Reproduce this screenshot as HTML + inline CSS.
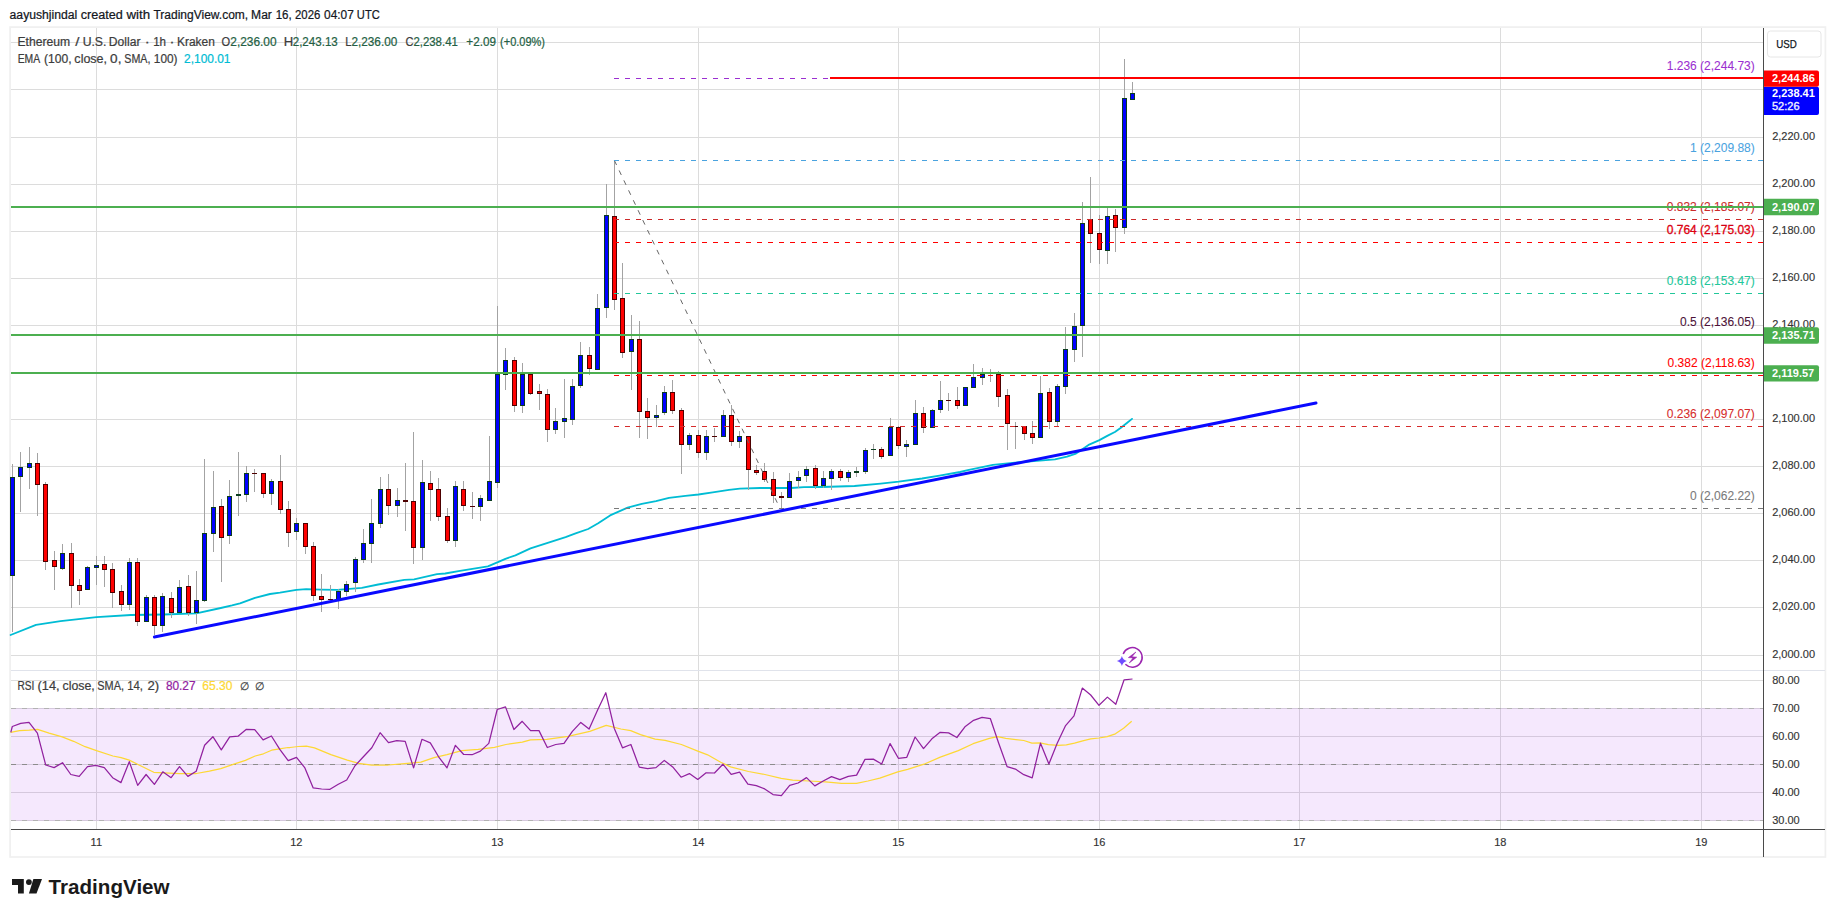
<!DOCTYPE html>
<html lang="en"><head><meta charset="utf-8"><title>ETHUSD chart</title>
<style>html,body{margin:0;padding:0;background:#fff;}body{width:1835px;height:917px;overflow:hidden;}svg{display:block;}</style></head>
<body>
<svg width="1835" height="917" viewBox="0 0 1835 917" font-family='"Liberation Sans", sans-serif' shape-rendering="auto">
<rect x="0" y="0" width="1835" height="917" fill="#ffffff"/>
<rect x="10.1" y="27.1" width="1815.3" height="829.9" fill="#ffffff" stroke="#f0f0f0" stroke-width="1.7"/>
<rect x="96" y="28" width="1" height="801" fill="#dcdcdc"/>
<rect x="296" y="28" width="1" height="801" fill="#dcdcdc"/>
<rect x="497" y="28" width="1" height="801" fill="#dcdcdc"/>
<rect x="698" y="28" width="1" height="801" fill="#dcdcdc"/>
<rect x="898" y="28" width="1" height="801" fill="#dcdcdc"/>
<rect x="1099" y="28" width="1" height="801" fill="#dcdcdc"/>
<rect x="1299" y="28" width="1" height="801" fill="#dcdcdc"/>
<rect x="1500" y="28" width="1" height="801" fill="#dcdcdc"/>
<rect x="1701" y="28" width="1" height="801" fill="#dcdcdc"/>
<rect x="11" y="42" width="1752" height="1" fill="#dcdcdc"/>
<rect x="11" y="89" width="1752" height="1" fill="#dcdcdc"/>
<rect x="11" y="137" width="1752" height="1" fill="#dcdcdc"/>
<rect x="11" y="184" width="1752" height="1" fill="#dcdcdc"/>
<rect x="11" y="231" width="1752" height="1" fill="#dcdcdc"/>
<rect x="11" y="278" width="1752" height="1" fill="#dcdcdc"/>
<rect x="11" y="325" width="1752" height="1" fill="#dcdcdc"/>
<rect x="11" y="372" width="1752" height="1" fill="#dcdcdc"/>
<rect x="11" y="419" width="1752" height="1" fill="#dcdcdc"/>
<rect x="11" y="466" width="1752" height="1" fill="#dcdcdc"/>
<rect x="11" y="513" width="1752" height="1" fill="#dcdcdc"/>
<rect x="11" y="560" width="1752" height="1" fill="#dcdcdc"/>
<rect x="11" y="607" width="1752" height="1" fill="#dcdcdc"/>
<rect x="11" y="655" width="1752" height="1" fill="#dcdcdc"/>
<rect x="11" y="670" width="1814" height="1" fill="#e0e3eb"/>
<rect x="11" y="680" width="1752" height="1" fill="#dcdcdc"/>
<rect x="11" y="708" width="1752" height="1" fill="#dcdcdc"/>
<rect x="11" y="736" width="1752" height="1" fill="#dcdcdc"/>
<rect x="11" y="764" width="1752" height="1" fill="#dcdcdc"/>
<rect x="11" y="792" width="1752" height="1" fill="#dcdcdc"/>
<rect x="11" y="820" width="1752" height="1" fill="#dcdcdc"/>
<rect x="11" y="708" width="1752" height="113" fill="rgb(155,25,235)" fill-opacity="0.1"/>
<line x1="11" y1="708.5" x2="1763" y2="708.5" stroke="#b2b2b2" stroke-width="1" stroke-dasharray="5 6"/>
<line x1="11" y1="764.5" x2="1763" y2="764.5" stroke="#8c8c8c" stroke-width="1" stroke-dasharray="5 6"/>
<line x1="11" y1="820.5" x2="1763" y2="820.5" stroke="#b2b2b2" stroke-width="1" stroke-dasharray="5 6"/>
<polyline points="10.6,635.0 36.0,624.8 60.5,621.1 96.5,617.1 130.9,615.0 163.6,614.5 196.3,613.4 220.8,608.0 232.0,605.4 240.0,603.3 255.0,597.8 270.0,594.0 280.0,592.7 296.4,589.9 306.2,589.1 320.9,589.6 337.3,589.9 361.8,587.9 378.2,584.5 404.3,579.9 414.1,579.4 437.0,574.2 445.2,573.5 460.0,570.9 487.9,566.4 497.9,562.2 505.4,558.8 515.4,555.3 530.5,548.4 543.0,544.3 565.6,537.1 575.6,533.4 588.2,529.0 598.2,523.3 610.1,515.4 627.6,507.6 641.8,503.8 656.0,501.1 669.0,497.8 685.4,495.8 698.5,494.5 712.7,492.3 729.0,489.8 739.9,488.7 760.1,488.0 777.8,488.0 790.9,488.0 804.0,487.2 821.8,487.0 854.5,486.0 880.7,483.6 898.7,481.7 922.1,478.5 939.5,475.7 960.0,472.0 967.8,470.2 992.9,464.8 1015.0,462.6 1036.8,460.9 1055.0,459.3 1067.0,456.6 1076.0,453.6 1082.0,449.4 1089.2,444.6 1099.4,440.1 1107.7,435.6 1114.9,432.0 1120.9,427.8 1126.9,423.0 1132.0,418.9" fill="none" stroke="#00bcd4" stroke-width="1.85" stroke-linejoin="round" stroke-linecap="round"/>
<g shape-rendering="crispEdges">
<rect x="12" y="464" width="1" height="168" fill="#a3a3a3"/>
<rect x="10" y="477" width="5" height="99" fill="#0b3d1e"/>
<rect x="11" y="478" width="3" height="97" fill="#0000ff"/>
<rect x="20" y="452" width="1" height="60" fill="#a3a3a3"/>
<rect x="18" y="467" width="5" height="10" fill="#0b3d1e"/>
<rect x="19" y="468" width="3" height="8" fill="#0000ff"/>
<rect x="29" y="447" width="1" height="42" fill="#a3a3a3"/>
<rect x="27" y="463" width="5" height="5" fill="#0b3d1e"/>
<rect x="28" y="464" width="3" height="3" fill="#0000ff"/>
<rect x="37" y="453" width="1" height="63" fill="#a3a3a3"/>
<rect x="35" y="463" width="5" height="22" fill="#4d0000"/>
<rect x="36" y="464" width="3" height="20" fill="#ff0000"/>
<rect x="45" y="482" width="1" height="88" fill="#a3a3a3"/>
<rect x="43" y="484" width="5" height="78" fill="#4d0000"/>
<rect x="44" y="485" width="3" height="76" fill="#ff0000"/>
<rect x="54" y="551" width="1" height="39" fill="#a3a3a3"/>
<rect x="52" y="560" width="5" height="7" fill="#4d0000"/>
<rect x="53" y="561" width="3" height="5" fill="#ff0000"/>
<rect x="62" y="544" width="1" height="26" fill="#a3a3a3"/>
<rect x="60" y="553" width="5" height="16" fill="#0b3d1e"/>
<rect x="61" y="554" width="3" height="14" fill="#0000ff"/>
<rect x="71" y="543" width="1" height="65" fill="#a3a3a3"/>
<rect x="69" y="553" width="5" height="33" fill="#4d0000"/>
<rect x="70" y="554" width="3" height="31" fill="#ff0000"/>
<rect x="79" y="579" width="1" height="26" fill="#a3a3a3"/>
<rect x="77" y="585" width="5" height="6" fill="#4d0000"/>
<rect x="78" y="586" width="3" height="4" fill="#ff0000"/>
<rect x="87" y="566" width="1" height="24" fill="#a3a3a3"/>
<rect x="85" y="567" width="5" height="23" fill="#0b3d1e"/>
<rect x="86" y="568" width="3" height="21" fill="#0000ff"/>
<rect x="96" y="556" width="1" height="29" fill="#a3a3a3"/>
<rect x="94" y="565" width="5" height="3" fill="#0b3d1e"/>
<rect x="95" y="566" width="3" height="1" fill="#0000ff"/>
<rect x="104" y="556" width="1" height="31" fill="#a3a3a3"/>
<rect x="102" y="564" width="5" height="6" fill="#4d0000"/>
<rect x="103" y="565" width="3" height="4" fill="#ff0000"/>
<rect x="112" y="563" width="1" height="45" fill="#a3a3a3"/>
<rect x="110" y="569" width="5" height="24" fill="#4d0000"/>
<rect x="111" y="570" width="3" height="22" fill="#ff0000"/>
<rect x="121" y="585" width="1" height="26" fill="#a3a3a3"/>
<rect x="119" y="591" width="5" height="14" fill="#4d0000"/>
<rect x="120" y="592" width="3" height="12" fill="#ff0000"/>
<rect x="129" y="558" width="1" height="52" fill="#a3a3a3"/>
<rect x="127" y="562" width="5" height="43" fill="#0b3d1e"/>
<rect x="128" y="563" width="3" height="41" fill="#0000ff"/>
<rect x="137" y="558" width="1" height="68" fill="#a3a3a3"/>
<rect x="135" y="562" width="5" height="60" fill="#4d0000"/>
<rect x="136" y="563" width="3" height="58" fill="#ff0000"/>
<rect x="146" y="595" width="1" height="27" fill="#a3a3a3"/>
<rect x="144" y="597" width="5" height="25" fill="#0b3d1e"/>
<rect x="145" y="598" width="3" height="23" fill="#0000ff"/>
<rect x="154" y="595" width="1" height="40" fill="#a3a3a3"/>
<rect x="152" y="597" width="5" height="29" fill="#4d0000"/>
<rect x="153" y="598" width="3" height="27" fill="#ff0000"/>
<rect x="162" y="593" width="1" height="39" fill="#a3a3a3"/>
<rect x="160" y="596" width="5" height="30" fill="#0b3d1e"/>
<rect x="161" y="597" width="3" height="28" fill="#0000ff"/>
<rect x="171" y="592" width="1" height="26" fill="#a3a3a3"/>
<rect x="169" y="598" width="5" height="15" fill="#4d0000"/>
<rect x="170" y="599" width="3" height="13" fill="#ff0000"/>
<rect x="179" y="580" width="1" height="33" fill="#a3a3a3"/>
<rect x="177" y="587" width="5" height="26" fill="#0b3d1e"/>
<rect x="178" y="588" width="3" height="24" fill="#0000ff"/>
<rect x="188" y="575" width="1" height="41" fill="#a3a3a3"/>
<rect x="186" y="586" width="5" height="27" fill="#4d0000"/>
<rect x="187" y="587" width="3" height="25" fill="#ff0000"/>
<rect x="196" y="571" width="1" height="53" fill="#a3a3a3"/>
<rect x="194" y="600" width="5" height="13" fill="#0b3d1e"/>
<rect x="195" y="601" width="3" height="11" fill="#0000ff"/>
<rect x="204" y="459" width="1" height="143" fill="#a3a3a3"/>
<rect x="202" y="533" width="5" height="68" fill="#0b3d1e"/>
<rect x="203" y="534" width="3" height="66" fill="#0000ff"/>
<rect x="213" y="471" width="1" height="81" fill="#a3a3a3"/>
<rect x="211" y="507" width="5" height="27" fill="#0b3d1e"/>
<rect x="212" y="508" width="3" height="25" fill="#0000ff"/>
<rect x="221" y="499" width="1" height="83" fill="#a3a3a3"/>
<rect x="219" y="506" width="5" height="32" fill="#4d0000"/>
<rect x="220" y="507" width="3" height="30" fill="#ff0000"/>
<rect x="229" y="480" width="1" height="64" fill="#a3a3a3"/>
<rect x="227" y="496" width="5" height="40" fill="#0b3d1e"/>
<rect x="228" y="497" width="3" height="38" fill="#0000ff"/>
<rect x="238" y="452" width="1" height="64" fill="#a3a3a3"/>
<rect x="236" y="494" width="5" height="2" fill="#0b3d1e"/>
<rect x="246" y="466" width="1" height="36" fill="#a3a3a3"/>
<rect x="244" y="473" width="5" height="22" fill="#0b3d1e"/>
<rect x="245" y="474" width="3" height="20" fill="#0000ff"/>
<rect x="254" y="469" width="1" height="23" fill="#a3a3a3"/>
<rect x="252" y="473" width="5" height="1" fill="#4d0000"/>
<rect x="263" y="473" width="1" height="25" fill="#a3a3a3"/>
<rect x="261" y="473" width="5" height="21" fill="#4d0000"/>
<rect x="262" y="474" width="3" height="19" fill="#ff0000"/>
<rect x="271" y="479" width="1" height="26" fill="#a3a3a3"/>
<rect x="269" y="481" width="5" height="13" fill="#0b3d1e"/>
<rect x="270" y="482" width="3" height="11" fill="#0000ff"/>
<rect x="280" y="455" width="1" height="59" fill="#a3a3a3"/>
<rect x="278" y="481" width="5" height="29" fill="#4d0000"/>
<rect x="279" y="482" width="3" height="27" fill="#ff0000"/>
<rect x="288" y="501" width="1" height="46" fill="#a3a3a3"/>
<rect x="286" y="509" width="5" height="24" fill="#4d0000"/>
<rect x="287" y="510" width="3" height="22" fill="#ff0000"/>
<rect x="296" y="518" width="1" height="22" fill="#a3a3a3"/>
<rect x="294" y="523" width="5" height="9" fill="#0b3d1e"/>
<rect x="295" y="524" width="3" height="7" fill="#0000ff"/>
<rect x="305" y="523" width="1" height="31" fill="#a3a3a3"/>
<rect x="303" y="523" width="5" height="24" fill="#4d0000"/>
<rect x="304" y="524" width="3" height="22" fill="#ff0000"/>
<rect x="313" y="542" width="1" height="59" fill="#a3a3a3"/>
<rect x="311" y="546" width="5" height="50" fill="#4d0000"/>
<rect x="312" y="547" width="3" height="48" fill="#ff0000"/>
<rect x="321" y="574" width="1" height="38" fill="#a3a3a3"/>
<rect x="319" y="596" width="5" height="4" fill="#4d0000"/>
<rect x="320" y="597" width="3" height="2" fill="#ff0000"/>
<rect x="330" y="585" width="1" height="15" fill="#a3a3a3"/>
<rect x="328" y="599" width="5" height="1" fill="#4d0000"/>
<rect x="338" y="589" width="1" height="20" fill="#a3a3a3"/>
<rect x="336" y="591" width="5" height="9" fill="#0b3d1e"/>
<rect x="337" y="592" width="3" height="7" fill="#0000ff"/>
<rect x="346" y="581" width="1" height="15" fill="#a3a3a3"/>
<rect x="344" y="584" width="5" height="8" fill="#0b3d1e"/>
<rect x="345" y="585" width="3" height="6" fill="#0000ff"/>
<rect x="355" y="557" width="1" height="35" fill="#a3a3a3"/>
<rect x="353" y="559" width="5" height="24" fill="#0b3d1e"/>
<rect x="354" y="560" width="3" height="22" fill="#0000ff"/>
<rect x="363" y="529" width="1" height="34" fill="#a3a3a3"/>
<rect x="361" y="543" width="5" height="17" fill="#0b3d1e"/>
<rect x="362" y="544" width="3" height="15" fill="#0000ff"/>
<rect x="371" y="499" width="1" height="64" fill="#a3a3a3"/>
<rect x="369" y="523" width="5" height="21" fill="#0b3d1e"/>
<rect x="370" y="524" width="3" height="19" fill="#0000ff"/>
<rect x="380" y="477" width="1" height="51" fill="#a3a3a3"/>
<rect x="378" y="489" width="5" height="35" fill="#0b3d1e"/>
<rect x="379" y="490" width="3" height="33" fill="#0000ff"/>
<rect x="388" y="474" width="1" height="41" fill="#a3a3a3"/>
<rect x="386" y="489" width="5" height="17" fill="#4d0000"/>
<rect x="387" y="490" width="3" height="15" fill="#ff0000"/>
<rect x="397" y="488" width="1" height="29" fill="#a3a3a3"/>
<rect x="395" y="500" width="5" height="6" fill="#0b3d1e"/>
<rect x="396" y="501" width="3" height="4" fill="#0000ff"/>
<rect x="405" y="463" width="1" height="68" fill="#a3a3a3"/>
<rect x="403" y="500" width="5" height="2" fill="#4d0000"/>
<rect x="413" y="432" width="1" height="132" fill="#a3a3a3"/>
<rect x="411" y="501" width="5" height="47" fill="#4d0000"/>
<rect x="412" y="502" width="3" height="45" fill="#ff0000"/>
<rect x="422" y="460" width="1" height="100" fill="#a3a3a3"/>
<rect x="420" y="482" width="5" height="66" fill="#0b3d1e"/>
<rect x="421" y="483" width="3" height="64" fill="#0000ff"/>
<rect x="430" y="471" width="1" height="50" fill="#a3a3a3"/>
<rect x="428" y="483" width="5" height="7" fill="#4d0000"/>
<rect x="429" y="484" width="3" height="5" fill="#ff0000"/>
<rect x="438" y="478" width="1" height="43" fill="#a3a3a3"/>
<rect x="436" y="489" width="5" height="28" fill="#4d0000"/>
<rect x="437" y="490" width="3" height="26" fill="#ff0000"/>
<rect x="447" y="508" width="1" height="35" fill="#a3a3a3"/>
<rect x="445" y="516" width="5" height="25" fill="#4d0000"/>
<rect x="446" y="517" width="3" height="23" fill="#ff0000"/>
<rect x="455" y="481" width="1" height="66" fill="#a3a3a3"/>
<rect x="453" y="486" width="5" height="55" fill="#0b3d1e"/>
<rect x="454" y="487" width="3" height="53" fill="#0000ff"/>
<rect x="463" y="481" width="1" height="30" fill="#a3a3a3"/>
<rect x="461" y="489" width="5" height="17" fill="#4d0000"/>
<rect x="462" y="490" width="3" height="15" fill="#ff0000"/>
<rect x="472" y="492" width="1" height="27" fill="#a3a3a3"/>
<rect x="470" y="506" width="5" height="1" fill="#4d0000"/>
<rect x="480" y="495" width="1" height="26" fill="#a3a3a3"/>
<rect x="478" y="498" width="5" height="9" fill="#0b3d1e"/>
<rect x="479" y="499" width="3" height="7" fill="#0000ff"/>
<rect x="489" y="436" width="1" height="65" fill="#a3a3a3"/>
<rect x="487" y="481" width="5" height="20" fill="#0b3d1e"/>
<rect x="488" y="482" width="3" height="18" fill="#0000ff"/>
<rect x="497" y="306" width="1" height="182" fill="#a3a3a3"/>
<rect x="495" y="374" width="5" height="109" fill="#0b3d1e"/>
<rect x="496" y="375" width="3" height="107" fill="#0000ff"/>
<rect x="505" y="348" width="1" height="42" fill="#a3a3a3"/>
<rect x="503" y="360" width="5" height="15" fill="#0b3d1e"/>
<rect x="504" y="361" width="3" height="13" fill="#0000ff"/>
<rect x="514" y="357" width="1" height="55" fill="#a3a3a3"/>
<rect x="512" y="360" width="5" height="46" fill="#4d0000"/>
<rect x="513" y="361" width="3" height="44" fill="#ff0000"/>
<rect x="522" y="363" width="1" height="50" fill="#a3a3a3"/>
<rect x="520" y="374" width="5" height="32" fill="#0b3d1e"/>
<rect x="521" y="375" width="3" height="30" fill="#0000ff"/>
<rect x="530" y="374" width="1" height="21" fill="#a3a3a3"/>
<rect x="528" y="374" width="5" height="20" fill="#4d0000"/>
<rect x="529" y="375" width="3" height="18" fill="#ff0000"/>
<rect x="539" y="384" width="1" height="26" fill="#a3a3a3"/>
<rect x="537" y="391" width="5" height="3" fill="#4d0000"/>
<rect x="538" y="392" width="3" height="1" fill="#ff0000"/>
<rect x="547" y="389" width="1" height="53" fill="#a3a3a3"/>
<rect x="545" y="394" width="5" height="36" fill="#4d0000"/>
<rect x="546" y="395" width="3" height="34" fill="#ff0000"/>
<rect x="555" y="408" width="1" height="26" fill="#a3a3a3"/>
<rect x="553" y="421" width="5" height="9" fill="#0b3d1e"/>
<rect x="554" y="422" width="3" height="7" fill="#0000ff"/>
<rect x="564" y="379" width="1" height="59" fill="#a3a3a3"/>
<rect x="562" y="418" width="5" height="4" fill="#0b3d1e"/>
<rect x="563" y="419" width="3" height="2" fill="#0000ff"/>
<rect x="572" y="379" width="1" height="46" fill="#a3a3a3"/>
<rect x="570" y="386" width="5" height="34" fill="#0b3d1e"/>
<rect x="571" y="387" width="3" height="32" fill="#0000ff"/>
<rect x="580" y="342" width="1" height="46" fill="#a3a3a3"/>
<rect x="578" y="355" width="5" height="31" fill="#0b3d1e"/>
<rect x="579" y="356" width="3" height="29" fill="#0000ff"/>
<rect x="589" y="347" width="1" height="28" fill="#a3a3a3"/>
<rect x="587" y="355" width="5" height="14" fill="#4d0000"/>
<rect x="588" y="356" width="3" height="12" fill="#ff0000"/>
<rect x="597" y="294" width="1" height="76" fill="#a3a3a3"/>
<rect x="595" y="308" width="5" height="62" fill="#0b3d1e"/>
<rect x="596" y="309" width="3" height="60" fill="#0000ff"/>
<rect x="606" y="184" width="1" height="134" fill="#a3a3a3"/>
<rect x="604" y="215" width="5" height="93" fill="#0b3d1e"/>
<rect x="605" y="216" width="3" height="91" fill="#0000ff"/>
<rect x="614" y="160" width="1" height="150" fill="#a3a3a3"/>
<rect x="612" y="216" width="5" height="84" fill="#4d0000"/>
<rect x="613" y="217" width="3" height="82" fill="#ff0000"/>
<rect x="622" y="263" width="1" height="95" fill="#a3a3a3"/>
<rect x="620" y="298" width="5" height="55" fill="#4d0000"/>
<rect x="621" y="299" width="3" height="53" fill="#ff0000"/>
<rect x="631" y="315" width="1" height="75" fill="#a3a3a3"/>
<rect x="629" y="339" width="5" height="13" fill="#0b3d1e"/>
<rect x="630" y="340" width="3" height="11" fill="#0000ff"/>
<rect x="639" y="321" width="1" height="117" fill="#a3a3a3"/>
<rect x="637" y="339" width="5" height="73" fill="#4d0000"/>
<rect x="638" y="340" width="3" height="71" fill="#ff0000"/>
<rect x="647" y="398" width="1" height="41" fill="#a3a3a3"/>
<rect x="645" y="411" width="5" height="7" fill="#4d0000"/>
<rect x="646" y="412" width="3" height="5" fill="#ff0000"/>
<rect x="656" y="405" width="1" height="22" fill="#a3a3a3"/>
<rect x="654" y="415" width="5" height="3" fill="#0b3d1e"/>
<rect x="655" y="416" width="3" height="1" fill="#0000ff"/>
<rect x="664" y="386" width="1" height="29" fill="#a3a3a3"/>
<rect x="662" y="392" width="5" height="21" fill="#0b3d1e"/>
<rect x="663" y="393" width="3" height="19" fill="#0000ff"/>
<rect x="672" y="380" width="1" height="34" fill="#a3a3a3"/>
<rect x="670" y="392" width="5" height="19" fill="#4d0000"/>
<rect x="671" y="393" width="3" height="17" fill="#ff0000"/>
<rect x="681" y="408" width="1" height="66" fill="#a3a3a3"/>
<rect x="679" y="410" width="5" height="35" fill="#4d0000"/>
<rect x="680" y="411" width="3" height="33" fill="#ff0000"/>
<rect x="689" y="433" width="1" height="17" fill="#a3a3a3"/>
<rect x="687" y="435" width="5" height="10" fill="#0b3d1e"/>
<rect x="688" y="436" width="3" height="8" fill="#0000ff"/>
<rect x="698" y="430" width="1" height="28" fill="#a3a3a3"/>
<rect x="696" y="435" width="5" height="18" fill="#4d0000"/>
<rect x="697" y="436" width="3" height="16" fill="#ff0000"/>
<rect x="706" y="430" width="1" height="30" fill="#a3a3a3"/>
<rect x="704" y="436" width="5" height="17" fill="#0b3d1e"/>
<rect x="705" y="437" width="3" height="15" fill="#0000ff"/>
<rect x="714" y="428" width="1" height="14" fill="#a3a3a3"/>
<rect x="712" y="436" width="5" height="1" fill="#4d0000"/>
<rect x="723" y="410" width="1" height="27" fill="#a3a3a3"/>
<rect x="721" y="415" width="5" height="22" fill="#0b3d1e"/>
<rect x="722" y="416" width="3" height="20" fill="#0000ff"/>
<rect x="731" y="405" width="1" height="41" fill="#a3a3a3"/>
<rect x="729" y="415" width="5" height="27" fill="#4d0000"/>
<rect x="730" y="416" width="3" height="25" fill="#ff0000"/>
<rect x="739" y="431" width="1" height="17" fill="#a3a3a3"/>
<rect x="737" y="436" width="5" height="6" fill="#0b3d1e"/>
<rect x="738" y="437" width="3" height="4" fill="#0000ff"/>
<rect x="748" y="436" width="1" height="54" fill="#a3a3a3"/>
<rect x="746" y="436" width="5" height="34" fill="#4d0000"/>
<rect x="747" y="437" width="3" height="32" fill="#ff0000"/>
<rect x="756" y="465" width="1" height="10" fill="#a3a3a3"/>
<rect x="754" y="470" width="5" height="3" fill="#4d0000"/>
<rect x="755" y="471" width="3" height="1" fill="#ff0000"/>
<rect x="764" y="463" width="1" height="19" fill="#a3a3a3"/>
<rect x="762" y="471" width="5" height="9" fill="#4d0000"/>
<rect x="763" y="472" width="3" height="7" fill="#ff0000"/>
<rect x="773" y="472" width="1" height="31" fill="#a3a3a3"/>
<rect x="771" y="479" width="5" height="17" fill="#4d0000"/>
<rect x="772" y="480" width="3" height="15" fill="#ff0000"/>
<rect x="781" y="492" width="1" height="16" fill="#a3a3a3"/>
<rect x="779" y="496" width="5" height="2" fill="#4d0000"/>
<rect x="789" y="473" width="1" height="25" fill="#a3a3a3"/>
<rect x="787" y="481" width="5" height="17" fill="#0b3d1e"/>
<rect x="788" y="482" width="3" height="15" fill="#0000ff"/>
<rect x="798" y="471" width="1" height="17" fill="#a3a3a3"/>
<rect x="796" y="477" width="5" height="4" fill="#0b3d1e"/>
<rect x="797" y="478" width="3" height="2" fill="#0000ff"/>
<rect x="806" y="466" width="1" height="16" fill="#a3a3a3"/>
<rect x="804" y="469" width="5" height="7" fill="#0b3d1e"/>
<rect x="805" y="470" width="3" height="5" fill="#0000ff"/>
<rect x="815" y="465" width="1" height="24" fill="#a3a3a3"/>
<rect x="813" y="468" width="5" height="18" fill="#4d0000"/>
<rect x="814" y="469" width="3" height="16" fill="#ff0000"/>
<rect x="823" y="471" width="1" height="17" fill="#a3a3a3"/>
<rect x="821" y="478" width="5" height="8" fill="#0b3d1e"/>
<rect x="822" y="479" width="3" height="6" fill="#0000ff"/>
<rect x="831" y="469" width="1" height="21" fill="#a3a3a3"/>
<rect x="829" y="471" width="5" height="8" fill="#0b3d1e"/>
<rect x="830" y="472" width="3" height="6" fill="#0000ff"/>
<rect x="840" y="469" width="1" height="12" fill="#a3a3a3"/>
<rect x="838" y="471" width="5" height="7" fill="#4d0000"/>
<rect x="839" y="472" width="3" height="5" fill="#ff0000"/>
<rect x="848" y="470" width="1" height="12" fill="#a3a3a3"/>
<rect x="846" y="472" width="5" height="6" fill="#0b3d1e"/>
<rect x="847" y="473" width="3" height="4" fill="#0000ff"/>
<rect x="856" y="467" width="1" height="10" fill="#a3a3a3"/>
<rect x="854" y="471" width="5" height="2" fill="#0b3d1e"/>
<rect x="865" y="448" width="1" height="26" fill="#a3a3a3"/>
<rect x="863" y="450" width="5" height="22" fill="#0b3d1e"/>
<rect x="864" y="451" width="3" height="20" fill="#0000ff"/>
<rect x="873" y="444" width="1" height="15" fill="#a3a3a3"/>
<rect x="871" y="449" width="5" height="1" fill="#0b3d1e"/>
<rect x="881" y="447" width="1" height="12" fill="#a3a3a3"/>
<rect x="879" y="449" width="5" height="8" fill="#4d0000"/>
<rect x="880" y="450" width="3" height="6" fill="#ff0000"/>
<rect x="890" y="418" width="1" height="38" fill="#a3a3a3"/>
<rect x="888" y="427" width="5" height="29" fill="#0b3d1e"/>
<rect x="889" y="428" width="3" height="27" fill="#0000ff"/>
<rect x="898" y="426" width="1" height="23" fill="#a3a3a3"/>
<rect x="896" y="427" width="5" height="19" fill="#4d0000"/>
<rect x="897" y="428" width="3" height="17" fill="#ff0000"/>
<rect x="906" y="440" width="1" height="17" fill="#a3a3a3"/>
<rect x="904" y="444" width="5" height="3" fill="#0b3d1e"/>
<rect x="905" y="445" width="3" height="1" fill="#0000ff"/>
<rect x="915" y="400" width="1" height="45" fill="#a3a3a3"/>
<rect x="913" y="413" width="5" height="32" fill="#0b3d1e"/>
<rect x="914" y="414" width="3" height="30" fill="#0000ff"/>
<rect x="923" y="407" width="1" height="26" fill="#a3a3a3"/>
<rect x="921" y="413" width="5" height="15" fill="#4d0000"/>
<rect x="922" y="414" width="3" height="13" fill="#ff0000"/>
<rect x="932" y="409" width="1" height="19" fill="#a3a3a3"/>
<rect x="930" y="410" width="5" height="18" fill="#0b3d1e"/>
<rect x="931" y="411" width="3" height="16" fill="#0000ff"/>
<rect x="940" y="381" width="1" height="32" fill="#a3a3a3"/>
<rect x="938" y="400" width="5" height="10" fill="#0b3d1e"/>
<rect x="939" y="401" width="3" height="8" fill="#0000ff"/>
<rect x="948" y="393" width="1" height="18" fill="#a3a3a3"/>
<rect x="946" y="400" width="5" height="1" fill="#4d0000"/>
<rect x="957" y="387" width="1" height="22" fill="#a3a3a3"/>
<rect x="955" y="400" width="5" height="6" fill="#4d0000"/>
<rect x="956" y="401" width="3" height="4" fill="#ff0000"/>
<rect x="965" y="387" width="1" height="19" fill="#a3a3a3"/>
<rect x="963" y="387" width="5" height="19" fill="#0b3d1e"/>
<rect x="964" y="388" width="3" height="17" fill="#0000ff"/>
<rect x="973" y="364" width="1" height="24" fill="#a3a3a3"/>
<rect x="971" y="377" width="5" height="11" fill="#0b3d1e"/>
<rect x="972" y="378" width="3" height="9" fill="#0000ff"/>
<rect x="982" y="368" width="1" height="17" fill="#a3a3a3"/>
<rect x="980" y="374" width="5" height="4" fill="#0b3d1e"/>
<rect x="981" y="375" width="3" height="2" fill="#0000ff"/>
<rect x="990" y="369" width="1" height="13" fill="#a3a3a3"/>
<rect x="988" y="373" width="5" height="1" fill="#4d0000"/>
<rect x="998" y="371" width="1" height="36" fill="#a3a3a3"/>
<rect x="996" y="374" width="5" height="23" fill="#4d0000"/>
<rect x="997" y="375" width="3" height="21" fill="#ff0000"/>
<rect x="1007" y="389" width="1" height="61" fill="#a3a3a3"/>
<rect x="1005" y="395" width="5" height="29" fill="#4d0000"/>
<rect x="1006" y="396" width="3" height="27" fill="#ff0000"/>
<rect x="1015" y="422" width="1" height="27" fill="#a3a3a3"/>
<rect x="1013" y="426" width="5" height="1" fill="#4d0000"/>
<rect x="1024" y="426" width="1" height="14" fill="#a3a3a3"/>
<rect x="1022" y="426" width="5" height="8" fill="#4d0000"/>
<rect x="1023" y="427" width="3" height="6" fill="#ff0000"/>
<rect x="1032" y="421" width="1" height="23" fill="#a3a3a3"/>
<rect x="1030" y="433" width="5" height="5" fill="#4d0000"/>
<rect x="1031" y="434" width="3" height="3" fill="#ff0000"/>
<rect x="1040" y="376" width="1" height="62" fill="#a3a3a3"/>
<rect x="1038" y="393" width="5" height="45" fill="#0b3d1e"/>
<rect x="1039" y="394" width="3" height="43" fill="#0000ff"/>
<rect x="1049" y="388" width="1" height="41" fill="#a3a3a3"/>
<rect x="1047" y="392" width="5" height="30" fill="#4d0000"/>
<rect x="1048" y="393" width="3" height="28" fill="#ff0000"/>
<rect x="1057" y="384" width="1" height="42" fill="#a3a3a3"/>
<rect x="1055" y="386" width="5" height="36" fill="#0b3d1e"/>
<rect x="1056" y="387" width="3" height="34" fill="#0000ff"/>
<rect x="1065" y="327" width="1" height="67" fill="#a3a3a3"/>
<rect x="1063" y="349" width="5" height="38" fill="#0b3d1e"/>
<rect x="1064" y="350" width="3" height="36" fill="#0000ff"/>
<rect x="1074" y="313" width="1" height="49" fill="#a3a3a3"/>
<rect x="1072" y="326" width="5" height="24" fill="#0b3d1e"/>
<rect x="1073" y="327" width="3" height="22" fill="#0000ff"/>
<rect x="1082" y="202" width="1" height="155" fill="#a3a3a3"/>
<rect x="1080" y="223" width="5" height="103" fill="#0b3d1e"/>
<rect x="1081" y="224" width="3" height="101" fill="#0000ff"/>
<rect x="1090" y="177" width="1" height="86" fill="#a3a3a3"/>
<rect x="1088" y="219" width="5" height="15" fill="#4d0000"/>
<rect x="1089" y="220" width="3" height="13" fill="#ff0000"/>
<rect x="1099" y="215" width="1" height="49" fill="#a3a3a3"/>
<rect x="1097" y="233" width="5" height="17" fill="#4d0000"/>
<rect x="1098" y="234" width="3" height="15" fill="#ff0000"/>
<rect x="1107" y="208" width="1" height="56" fill="#a3a3a3"/>
<rect x="1105" y="216" width="5" height="35" fill="#0b3d1e"/>
<rect x="1106" y="217" width="3" height="33" fill="#0000ff"/>
<rect x="1115" y="209" width="1" height="43" fill="#a3a3a3"/>
<rect x="1113" y="215" width="5" height="13" fill="#4d0000"/>
<rect x="1114" y="216" width="3" height="11" fill="#ff0000"/>
<rect x="1124" y="59" width="1" height="175" fill="#a3a3a3"/>
<rect x="1122" y="98" width="5" height="130" fill="#0b3d1e"/>
<rect x="1123" y="99" width="3" height="128" fill="#0000ff"/>
<rect x="1132" y="82" width="1" height="18" fill="#a3a3a3"/>
<rect x="1130" y="93" width="5" height="7" fill="#0b3d1e"/>
<rect x="1131" y="94" width="3" height="5" fill="#0000ff"/>
</g>
<line x1="614.4" y1="160.5" x2="780" y2="508.5" stroke="#666666" stroke-width="1" stroke-dasharray="5 6"/>
<line x1="614" y1="78.5" x2="830.3" y2="78.5" stroke="#9b2fd1" stroke-width="1" stroke-dasharray="5 6"/>
<line x1="614" y1="160.5" x2="1763" y2="160.5" stroke="#4aa3df" stroke-width="1" stroke-dasharray="5 6"/>
<line x1="614" y1="219.5" x2="1763" y2="219.5" stroke="#cc2a2a" stroke-width="1" stroke-dasharray="5 6"/>
<line x1="614" y1="242.5" x2="1763" y2="242.5" stroke="#ff0000" stroke-width="1" stroke-dasharray="5 6"/>
<line x1="614" y1="293.5" x2="1763" y2="293.5" stroke="#22c79a" stroke-width="1" stroke-dasharray="5 6"/>
<line x1="614" y1="334.5" x2="1763" y2="334.5" stroke="#4d1238" stroke-width="1" stroke-dasharray="5 6"/>
<line x1="614" y1="375.5" x2="1763" y2="375.5" stroke="#ff0000" stroke-width="1" stroke-dasharray="5 6"/>
<line x1="614" y1="426.5" x2="1763" y2="426.5" stroke="#d62c2c" stroke-width="1" stroke-dasharray="5 6"/>
<line x1="614" y1="508.5" x2="1763" y2="508.5" stroke="#7a7a7a" stroke-width="1" stroke-dasharray="5 6"/>
<text x="1754.8" y="69.9" font-size="12" fill="#9b2fd1" stroke="#9b2fd1" stroke-width="0.08" text-anchor="end">1.236 (2,244.73)</text>
<text x="1754.8" y="151.9" font-size="12" fill="#4aa3df" stroke="#4aa3df" stroke-width="0.08" text-anchor="end">1 (2,209.88)</text>
<text x="1754.8" y="210.9" font-size="12" fill="#cc2a2a" stroke="#cc2a2a" stroke-width="0.08" text-anchor="end">0.832 (2,185.07)</text>
<text x="1754.8" y="233.9" font-size="12" fill="#ff0000" stroke="#b80024" stroke-width="0.3" text-anchor="end">0.764 (2,175.03)</text>
<text x="1754.8" y="284.9" font-size="12" fill="#22c79a" stroke="#22c79a" stroke-width="0.08" text-anchor="end">0.618 (2,153.47)</text>
<text x="1754.8" y="325.9" font-size="12" fill="#4d1238" stroke="#4d1238" stroke-width="0.08" text-anchor="end">0.5 (2,136.05)</text>
<text x="1754.8" y="366.9" font-size="12" fill="#ff0000" stroke="#ff0000" stroke-width="0.08" text-anchor="end">0.382 (2,118.63)</text>
<text x="1754.8" y="417.9" font-size="12" fill="#d62c2c" stroke="#d62c2c" stroke-width="0.08" text-anchor="end">0.236 (2,097.07)</text>
<text x="1754.8" y="499.9" font-size="12" fill="#7a7a7a" stroke="#7a7a7a" stroke-width="0.08" text-anchor="end">0 (2,062.22)</text>
<rect x="830" y="77" width="933" height="2" fill="#ff0000"/>
<rect x="11" y="206" width="1752" height="2" fill="#4caf50"/>
<rect x="11" y="334" width="1752" height="2" fill="#4caf50"/>
<rect x="11" y="372" width="1752" height="2" fill="#4caf50"/>
<line x1="154.4" y1="637.0" x2="1316" y2="403.0" stroke="#0a0aff" stroke-width="3" stroke-linecap="round"/>
<polyline points="10.6,732.3 19.6,730.6 29.4,730.1 37.6,729.3 49.1,733.1 62.2,736.8 73.6,741.3 85.1,746.7 96.5,750.7 112.9,756.0 121.1,757.6 129.2,760.1 139.0,765.0 153.8,772.3 163.6,772.8 179.9,773.6 196.3,773.5 209.4,771.2 220.8,768.7 233.9,764.2 245.4,760.4 255.2,756.0 263.4,753.8 271.6,750.2 279.7,748.9 287.9,747.5 290.0,747.5 298.2,746.5 306.4,746.2 314.5,747.8 330.9,754.7 347.3,760.1 358.7,763.3 371.8,765.1 388.2,765.0 404.5,763.7 420.9,762.2 434.0,757.6 447.0,754.7 461.8,750.6 478.1,749.4 494.5,747.3 505.9,744.5 522.3,742.1 530.5,739.8 546.8,739.3 568.1,736.3 580.0,733.6 589.8,731.4 606.2,725.4 620.9,729.0 630.7,730.6 640.5,734.7 655.2,739.1 665.1,740.4 681.4,744.5 697.8,751.1 707.6,754.8 720.7,762.2 730.5,766.9 748.5,771.5 764.9,774.5 781.2,778.4 792.7,780.2 809.0,781.0 825.4,781.8 841.7,783.3 856.5,783.3 867.9,781.0 870.0,780.5 879.8,778.1 897.8,771.9 907.6,769.4 924.0,764.2 940.3,757.1 958.3,750.6 973.1,743.7 989.4,738.3 997.6,736.7 1005.8,738.3 1023.8,740.5 1031.9,743.2 1040.1,742.9 1048.3,744.6 1058.1,745.4 1066.3,744.9 1074.5,743.2 1082.7,740.8 1090.8,738.8 1099.0,738.0 1107.2,736.7 1115.4,733.8 1123.6,728.2 1131.7,721.2" fill="none" stroke="#fdd835" stroke-width="1.25" stroke-linejoin="round"/>
<polyline points="10.8,732.3 12.3,726.5 20.7,723.3 29.0,722.3 37.4,733.1 45.7,765.0 54.1,767.6 62.5,762.7 70.8,774.5 79.2,776.4 87.5,766.6 95.9,765.3 104.3,767.6 112.6,777.7 121.0,782.6 129.3,761.7 137.7,785.4 146.1,774.5 154.4,784.3 162.8,771.8 171.1,777.7 179.5,766.6 187.9,776.4 196.2,771.2 204.6,745.3 212.9,736.7 221.3,749.9 229.7,736.8 238.0,736.2 246.4,729.3 254.7,729.6 263.1,739.9 271.4,736.0 279.8,749.4 288.2,760.6 296.5,757.3 304.9,767.9 313.2,787.9 321.6,789.0 330.0,789.3 338.3,784.3 346.7,780.0 355.0,765.8 363.4,756.8 371.8,747.8 380.1,732.7 388.5,742.6 396.8,740.6 405.2,741.4 413.6,767.9 421.9,739.3 430.3,742.9 438.6,756.8 447.0,767.9 455.4,745.3 463.7,754.5 472.1,754.7 480.4,751.1 488.8,743.4 497.2,709.5 505.5,706.9 513.9,729.5 522.2,721.3 530.6,730.6 539.0,730.6 547.3,747.5 555.7,744.5 564.0,743.4 572.4,731.4 580.8,722.4 589.1,729.0 597.5,710.2 605.8,692.7 614.2,728.2 622.5,747.8 630.9,744.5 639.3,767.1 647.6,768.6 656.0,767.6 664.3,760.4 672.7,766.9 681.1,777.2 689.4,773.6 697.8,779.4 706.1,772.8 714.5,773.0 722.9,764.2 731.2,774.3 739.6,772.2 747.9,784.1 756.3,785.7 764.7,788.9 773.0,794.6 781.4,795.7 789.7,785.4 798.1,783.0 806.5,777.6 814.8,785.9 823.2,781.0 831.5,776.6 839.9,779.7 848.3,776.4 856.6,775.1 865.0,759.4 873.3,759.1 881.7,764.0 890.1,743.6 898.4,758.3 906.8,757.3 915.1,737.0 923.5,748.6 931.9,738.8 940.2,732.3 948.6,732.9 956.9,737.5 965.3,726.4 973.6,720.3 982.0,717.4 990.4,718.7 998.7,743.2 1007.1,766.6 1015.4,769.1 1023.8,774.7 1032.2,777.9 1040.5,743.2 1048.9,764.0 1057.2,743.2 1065.6,725.6 1074.0,715.9 1082.3,688.1 1090.7,695.0 1099.0,705.3 1107.4,697.1 1115.8,704.3 1124.1,679.8 1132.5,679.0" fill="none" stroke="#91219f" stroke-width="1.25" stroke-linejoin="round"/>
<g transform="translate(1132.4,657.4)"><circle cx="-0.4" cy="0" r="12.1" fill="#ffffff"/><path d="M-9.2,-3.5 A9.8,9.8 0 1 1 -7.0,6.9" fill="none" stroke="#9c27b0" stroke-width="1.5" stroke-linecap="butt"/><path d="M3.5,-5.4 L-4.0,0.2 L0.6,0.5 L-3.1,5.5 L4.3,-0.2 L-0.5,-0.6 Z" fill="#9c27b0" stroke="#9c27b0" stroke-width="0.6" stroke-linejoin="round"/><path d="M-10.5,-1.5 Q-9.55,2.55 -5.5,3.5 Q-9.55,4.45 -10.5,8.5 Q-11.45,4.45 -15.5,3.5 Q-11.45,2.55 -10.5,-1.5 Z" fill="#6f4cff"/></g>
<rect x="1763" y="28" width="1" height="829" fill="#4a4a4a"/>
<rect x="11" y="829" width="1814" height="1" fill="#4a4a4a"/>
<text x="1772.2" y="139.7" font-size="11" fill="#333333" stroke="#333333" stroke-width="0.15">2,220.00</text>
<text x="1772.2" y="186.7" font-size="11" fill="#333333" stroke="#333333" stroke-width="0.15">2,200.00</text>
<text x="1772.2" y="233.7" font-size="11" fill="#333333" stroke="#333333" stroke-width="0.15">2,180.00</text>
<text x="1772.2" y="280.7" font-size="11" fill="#333333" stroke="#333333" stroke-width="0.15">2,160.00</text>
<text x="1772.2" y="327.7" font-size="11" fill="#333333" stroke="#333333" stroke-width="0.15">2,140.00</text>
<text x="1772.2" y="421.7" font-size="11" fill="#333333" stroke="#333333" stroke-width="0.15">2,100.00</text>
<text x="1772.2" y="468.7" font-size="11" fill="#333333" stroke="#333333" stroke-width="0.15">2,080.00</text>
<text x="1772.2" y="515.7" font-size="11" fill="#333333" stroke="#333333" stroke-width="0.15">2,060.00</text>
<text x="1772.2" y="562.7" font-size="11" fill="#333333" stroke="#333333" stroke-width="0.15">2,040.00</text>
<text x="1772.2" y="609.7" font-size="11" fill="#333333" stroke="#333333" stroke-width="0.15">2,020.00</text>
<text x="1772.2" y="657.7" font-size="11" fill="#333333" stroke="#333333" stroke-width="0.15">2,000.00</text>
<text x="1772.2" y="684.1" font-size="11" fill="#333333" stroke="#333333" stroke-width="0.15">80.00</text>
<text x="1772.2" y="712.1" font-size="11" fill="#333333" stroke="#333333" stroke-width="0.15">70.00</text>
<text x="1772.2" y="740.0" font-size="11" fill="#333333" stroke="#333333" stroke-width="0.15">60.00</text>
<text x="1772.2" y="768.0" font-size="11" fill="#333333" stroke="#333333" stroke-width="0.15">50.00</text>
<text x="1772.2" y="796.0" font-size="11" fill="#333333" stroke="#333333" stroke-width="0.15">40.00</text>
<text x="1772.2" y="823.9" font-size="11" fill="#333333" stroke="#333333" stroke-width="0.15">30.00</text>
<path d="M1764,327.3 H1817 a2,2 0 0 1 2,2 V341.7 a2,2 0 0 1 -2,2 H1764 Z" fill="#4caf50"/>
<text x="1772" y="339.2" font-size="11" fill="#ffffff" font-weight="bold">2,135.71</text>
<path d="M1764,365.2 H1817 a2,2 0 0 1 2,2 V379.59999999999997 a2,2 0 0 1 -2,2 H1764 Z" fill="#4caf50"/>
<text x="1772" y="377.2" font-size="11" fill="#ffffff" font-weight="bold">2,119.57</text>
<path d="M1764,198.8 H1817 a2,2 0 0 1 2,2 V213.20000000000002 a2,2 0 0 1 -2,2 H1764 Z" fill="#4caf50"/>
<text x="1772" y="210.8" font-size="11" fill="#ffffff" font-weight="bold">2,190.07</text>
<path d="M1764,86.7 H1817 a2,2 0 0 1 2,2 V113.0 a2,2 0 0 1 -2,2 H1764 Z" fill="#0000ff"/>
<text x="1772" y="96.8" font-size="11" fill="#ffffff" font-weight="bold">2,238.41</text>
<text x="1772" y="110.3" font-size="11" fill="#f0f0ff" stroke="#f0f0ff" stroke-width="0.35">52:26</text>
<path d="M1764,70.4 H1817 a2,2 0 0 1 2,2 V84.80000000000001 a2,2 0 0 1 -2,2 H1764 Z" fill="#ff0000"/>
<text x="1772" y="82.4" font-size="11" fill="#ffffff" font-weight="bold">2,244.86</text>
<rect x="1767.5" y="31" width="53.5" height="26" rx="3" fill="#ffffff" stroke="#e6e6e6" stroke-width="1"/>
<text x="1776.3" y="48.4" font-size="11" fill="#131722" stroke="#131722" stroke-width="0.25" textLength="20.6" lengthAdjust="spacingAndGlyphs">USD</text>
<text x="96.3" y="846.1" font-size="11" fill="#333333" stroke="#333333" stroke-width="0.15" text-anchor="middle">11</text>
<text x="296.3" y="846.1" font-size="11" fill="#333333" stroke="#333333" stroke-width="0.15" text-anchor="middle">12</text>
<text x="497.3" y="846.1" font-size="11" fill="#333333" stroke="#333333" stroke-width="0.15" text-anchor="middle">13</text>
<text x="698.3" y="846.1" font-size="11" fill="#333333" stroke="#333333" stroke-width="0.15" text-anchor="middle">14</text>
<text x="898.3" y="846.1" font-size="11" fill="#333333" stroke="#333333" stroke-width="0.15" text-anchor="middle">15</text>
<text x="1099.3" y="846.1" font-size="11" fill="#333333" stroke="#333333" stroke-width="0.15" text-anchor="middle">16</text>
<text x="1299.3" y="846.1" font-size="11" fill="#333333" stroke="#333333" stroke-width="0.15" text-anchor="middle">17</text>
<text x="1500.3" y="846.1" font-size="11" fill="#333333" stroke="#333333" stroke-width="0.15" text-anchor="middle">18</text>
<text x="1701.3" y="846.1" font-size="11" fill="#333333" stroke="#333333" stroke-width="0.15" text-anchor="middle">19</text>
<g fill="#1a1a1a"><path d="M12,879.1 H23.8 V893.6 H18 V884.9 H12 Z"/><circle cx="28.9" cy="882.1" r="2.9"/><path d="M33.4,879.1 H42 L36.5,893.6 H28.9 Z"/><text x="48.6" y="893.6" font-size="20.3" font-weight="bold" textLength="121" lengthAdjust="spacingAndGlyphs">TradingView</text></g>
<text x="9.59" y="18.8" font-size="12" fill="#131722" stroke="#131722" stroke-width="0.22" textLength="67.74" lengthAdjust="spacingAndGlyphs">aayushjindal</text>
<text x="80.67" y="18.8" font-size="12" fill="#131722" stroke="#131722" stroke-width="0.22" textLength="42.05" lengthAdjust="spacingAndGlyphs">created</text>
<text x="126.40" y="18.8" font-size="12" fill="#131722" stroke="#131722" stroke-width="0.22" textLength="23.63" lengthAdjust="spacingAndGlyphs">with</text>
<text x="153.45" y="18.8" font-size="12" fill="#131722" stroke="#131722" stroke-width="0.22" textLength="94.72" lengthAdjust="spacingAndGlyphs">TradingView.com,</text>
<text x="251.09" y="18.8" font-size="12" fill="#131722" stroke="#131722" stroke-width="0.22" textLength="20.78" lengthAdjust="spacingAndGlyphs">Mar</text>
<text x="275.64" y="18.8" font-size="12" fill="#131722" stroke="#131722" stroke-width="0.22" textLength="16.07" lengthAdjust="spacingAndGlyphs">16,</text>
<text x="295.03" y="18.8" font-size="12" fill="#131722" stroke="#131722" stroke-width="0.22" textLength="25.30" lengthAdjust="spacingAndGlyphs">2026</text>
<text x="324.11" y="18.8" font-size="12" fill="#131722" stroke="#131722" stroke-width="0.22" textLength="29.72" lengthAdjust="spacingAndGlyphs">04:07</text>
<text x="356.87" y="18.8" font-size="12" fill="#131722" stroke="#131722" stroke-width="0.22" textLength="22.85" lengthAdjust="spacingAndGlyphs">UTC</text>
<text x="17.49" y="45.7" font-size="12" fill="#3c3c3c" stroke="#3c3c3c" stroke-width="0.22" textLength="52.60" lengthAdjust="spacingAndGlyphs">Ethereum</text>
<text x="75.20" y="45.7" font-size="12" fill="#3c3c3c" stroke="#3c3c3c" stroke-width="0.22" textLength="4.18" lengthAdjust="spacingAndGlyphs">/</text>
<text x="82.68" y="45.7" font-size="12" fill="#3c3c3c" stroke="#3c3c3c" stroke-width="0.22" textLength="23.73" lengthAdjust="spacingAndGlyphs">U.S.</text>
<text x="108.89" y="45.7" font-size="12" fill="#3c3c3c" stroke="#3c3c3c" stroke-width="0.22" textLength="31.60" lengthAdjust="spacingAndGlyphs">Dollar</text>
<text x="144.72" y="45.7" font-size="12" fill="#3c3c3c" stroke="#3c3c3c" stroke-width="0.22" textLength="5.00" lengthAdjust="spacingAndGlyphs">·</text>
<text x="153.13" y="45.7" font-size="12" fill="#3c3c3c" stroke="#3c3c3c" stroke-width="0.22" textLength="12.89" lengthAdjust="spacingAndGlyphs">1h</text>
<text x="169.53" y="45.7" font-size="12" fill="#3c3c3c" stroke="#3c3c3c" stroke-width="0.22" textLength="5.00" lengthAdjust="spacingAndGlyphs">·</text>
<text x="177.00" y="45.7" font-size="12" fill="#3c3c3c" stroke="#3c3c3c" stroke-width="0.22" textLength="37.87" lengthAdjust="spacingAndGlyphs">Kraken</text>
<text x="221.54" y="45.7" font-size="12" fill="#3c3c3c" stroke="#3c3c3c" stroke-width="0.22" textLength="8.61" lengthAdjust="spacingAndGlyphs">O</text>
<text x="230.30" y="45.7" font-size="12" fill="#245f44" stroke="#245f44" stroke-width="0.22" textLength="46.26" lengthAdjust="spacingAndGlyphs">2,236.00</text>
<text x="283.70" y="45.7" font-size="12" fill="#3c3c3c" stroke="#3c3c3c" stroke-width="0.22" textLength="9.51" lengthAdjust="spacingAndGlyphs">H</text>
<text x="292.72" y="45.7" font-size="12" fill="#245f44" stroke="#245f44" stroke-width="0.22" textLength="45.03" lengthAdjust="spacingAndGlyphs">2,243.13</text>
<text x="345.27" y="45.7" font-size="12" fill="#3c3c3c" stroke="#3c3c3c" stroke-width="0.22" textLength="6.24" lengthAdjust="spacingAndGlyphs">L</text>
<text x="351.51" y="45.7" font-size="12" fill="#245f44" stroke="#245f44" stroke-width="0.22" textLength="45.75" lengthAdjust="spacingAndGlyphs">2,236.00</text>
<text x="405.54" y="45.7" font-size="12" fill="#3c3c3c" stroke="#3c3c3c" stroke-width="0.22" textLength="7.98" lengthAdjust="spacingAndGlyphs">C</text>
<text x="413.42" y="45.7" font-size="12" fill="#245f44" stroke="#245f44" stroke-width="0.22" textLength="44.42" lengthAdjust="spacingAndGlyphs">2,238.41</text>
<text x="466.31" y="45.7" font-size="12" fill="#245f44" stroke="#245f44" stroke-width="0.22" textLength="29.60" lengthAdjust="spacingAndGlyphs">+2.09</text>
<text x="500.11" y="45.7" font-size="12" fill="#245f44" stroke="#245f44" stroke-width="0.22" textLength="44.90" lengthAdjust="spacingAndGlyphs">(+0.09%)</text>
<text x="17.64" y="62.9" font-size="12" fill="#3c3c3c" stroke="#3c3c3c" stroke-width="0.22" textLength="22.48" lengthAdjust="spacingAndGlyphs">EMA</text>
<text x="44.04" y="62.9" font-size="12" fill="#3c3c3c" stroke="#3c3c3c" stroke-width="0.22" textLength="27.57" lengthAdjust="spacingAndGlyphs">(100,</text>
<text x="74.38" y="62.9" font-size="12" fill="#3c3c3c" stroke="#3c3c3c" stroke-width="0.22" textLength="32.68" lengthAdjust="spacingAndGlyphs">close,</text>
<text x="110.14" y="62.9" font-size="12" fill="#3c3c3c" stroke="#3c3c3c" stroke-width="0.22" textLength="11.31" lengthAdjust="spacingAndGlyphs">0,</text>
<text x="124.25" y="62.9" font-size="12" fill="#3c3c3c" stroke="#3c3c3c" stroke-width="0.22" textLength="26.22" lengthAdjust="spacingAndGlyphs">SMA,</text>
<text x="153.82" y="62.9" font-size="12" fill="#3c3c3c" stroke="#3c3c3c" stroke-width="0.22" textLength="23.65" lengthAdjust="spacingAndGlyphs">100)</text>
<text x="184.10" y="62.9" font-size="12" fill="#00bcd4" stroke="#00bcd4" stroke-width="0.22" textLength="46.36" lengthAdjust="spacingAndGlyphs">2,100.01</text>
<text x="17.46" y="690" font-size="12" fill="#3c3c3c" stroke="#3c3c3c" stroke-width="0.22" textLength="16.90" lengthAdjust="spacingAndGlyphs">RSI</text>
<text x="37.60" y="690" font-size="12" fill="#3c3c3c" stroke="#3c3c3c" stroke-width="0.22" textLength="21.99" lengthAdjust="spacingAndGlyphs">(14,</text>
<text x="62.49" y="690" font-size="12" fill="#3c3c3c" stroke="#3c3c3c" stroke-width="0.22" textLength="32.26" lengthAdjust="spacingAndGlyphs">close,</text>
<text x="97.35" y="690" font-size="12" fill="#3c3c3c" stroke="#3c3c3c" stroke-width="0.22" textLength="26.65" lengthAdjust="spacingAndGlyphs">SMA,</text>
<text x="127.16" y="690" font-size="12" fill="#3c3c3c" stroke="#3c3c3c" stroke-width="0.22" textLength="15.73" lengthAdjust="spacingAndGlyphs">14,</text>
<text x="147.45" y="690" font-size="12" fill="#3c3c3c" stroke="#3c3c3c" stroke-width="0.22" textLength="11.68" lengthAdjust="spacingAndGlyphs">2)</text>
<text x="165.91" y="690" font-size="12" fill="#91219f" stroke="#91219f" stroke-width="0.22" textLength="29.62" lengthAdjust="spacingAndGlyphs">80.27</text>
<text x="202.30" y="690" font-size="12" fill="#fdd835" stroke="#fdd835" stroke-width="0.22" textLength="30.24" lengthAdjust="spacingAndGlyphs">65.30</text>
<text x="239.77" y="690" font-size="10.5" fill="#3c3c3c" stroke="#3c3c3c" stroke-width="0.22" textLength="9.73" lengthAdjust="spacingAndGlyphs">∅</text>
<text x="254.76" y="690" font-size="10.5" fill="#3c3c3c" stroke="#3c3c3c" stroke-width="0.22" textLength="9.87" lengthAdjust="spacingAndGlyphs">∅</text>
</svg>
</body></html>
